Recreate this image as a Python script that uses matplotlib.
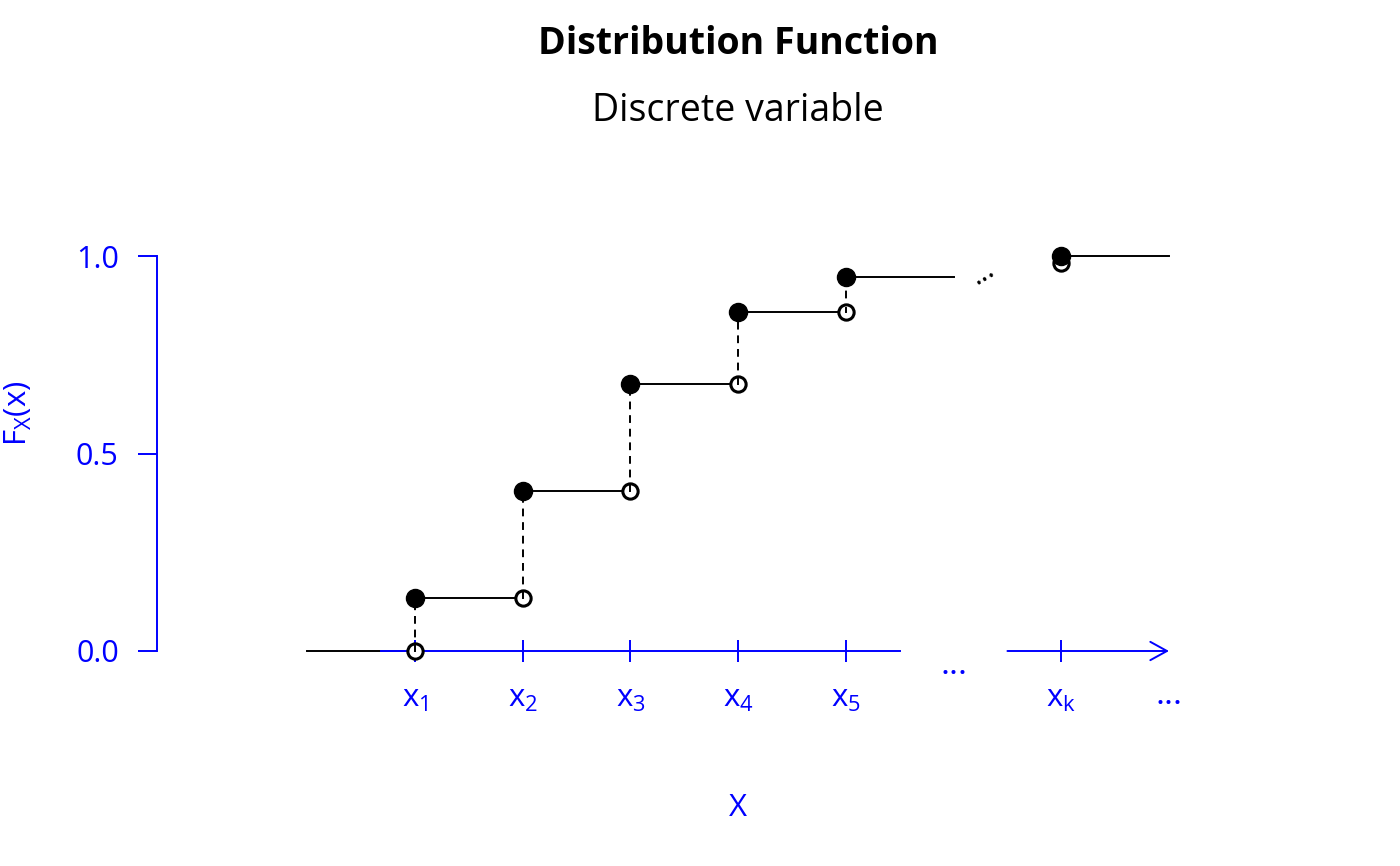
import matplotlib
matplotlib.use('Agg')
import matplotlib.pyplot as plt

plt.rcParams['font.family'] = ['Open Sans', 'DejaVu Sans']
plt.rcParams['mathtext.fontset'] = 'custom'
plt.rcParams['mathtext.rm'] = 'Open Sans'

BLUE = '#0000FF'

# step positions and cumulative probabilities
x_pts = [1, 2, 3, 4, 5]
F_pts = [0.135, 0.406, 0.677, 0.857, 0.947]
F_before = [0.0, 0.135, 0.406, 0.677, 0.857]
x_k = 7
F_k_before = 0.983
F_k = 1.0
x_start = 0
x_gap = 6
x_end = 8
tick_labels = [r'$\mathregular{x_1}$', r'$\mathregular{x_2}$', r'$\mathregular{x_3}$',
               r'$\mathregular{x_4}$', r'$\mathregular{x_5}$']
tick_label_k = r'$\mathregular{x_k}$'
y_ticks = [0.0, 0.5, 1.0]

fig = plt.figure(figsize=(14, 8.66), dpi=100)
ax = fig.add_axes([157 / 1400, 215 / 866, 1012 / 1400, 395 / 866])
ax.set_xlim(-1.3955, 8)
ax.set_ylim(0, 1)
for s in ['top', 'right', 'bottom']:
    ax.spines[s].set_visible(False)
ax.spines['left'].set_color(BLUE)
ax.spines['left'].set_linewidth(1.4)
ax.set_xticks([])
ax.set_yticks(y_ticks)
ax.set_yticklabels([f'{v:.1f}' for v in y_ticks])
ax.tick_params(axis='y', colors=BLUE, labelcolor=BLUE, length=13.5, width=1.4,
               pad=14, labelsize=22)

# x axis: broken line with arrow at the end
ax.plot([0.68, 5.5], [0, 0], color=BLUE, lw=1.4, clip_on=False, zorder=3)
ax.annotate('', xy=(x_end, 0), xytext=(6.5, 0),
            arrowprops=dict(arrowstyle='->,head_length=0.6,head_width=0.33',
                            color=BLUE, lw=1.4, mutation_scale=20,
                            shrinkA=0, shrinkB=0), annotation_clip=False)
tick_x = x_pts + [x_k]
ax.plot(tick_x, [0] * len(tick_x), ls='none', marker='|', markersize=16,
        markeredgewidth=1.4, color=BLUE, clip_on=False, zorder=3)
for xv, lab in zip(x_pts, tick_labels):
    ax.text(xv, -0.1418, lab, color=BLUE, fontsize=22.5, ha='center', va='baseline')
ax.text(x_k, -0.1418, tick_label_k, color=BLUE, fontsize=22.5, ha='center',
        va='baseline')
ax.text(x_gap, -0.058, '...', color=BLUE, fontsize=25, ha='center', va='baseline')
ax.text(x_end, -0.134, '...', color=BLUE, fontsize=25, ha='center', va='baseline')
ax.text(4.0, -0.4177, 'X', color=BLUE, fontsize=22.5, ha='center', va='baseline')

# horizontal steps
seg_x0 = [x_start] + x_pts + [x_k]
seg_x1 = x_pts + [x_gap, x_end]
seg_y = [0.0] + F_pts + [F_k]
for a, b, yv in zip(seg_x0, seg_x1, seg_y):
    ax.plot([a, b], [yv, yv], color='black', lw=1.4, clip_on=False, zorder=2)

# jumps
for xv, f0, f1 in zip(x_pts, F_before, F_pts):
    ax.plot([xv, xv], [f0, f1], color='black', lw=1.4, ls=(0, (4, 3)),
            clip_on=False, zorder=2)

# open circles (left limits) and filled circles (values)
ax.plot(x_pts + [x_k], F_before + [F_k_before], ls='none', marker='o',
        markersize=11, markerfacecolor='white', markeredgecolor='black',
        markeredgewidth=2.2, clip_on=False, zorder=4)
for xv, f0, f1 in zip(x_pts, F_before, F_pts):
    ax.plot([xv, xv], [f0, f0 + 0.012], color='black', lw=1.4,
            clip_on=False, zorder=5)
ax.plot(x_pts + [x_k], F_pts + [F_k], ls='none', marker='o', markersize=13,
        color='black', clip_on=False, zorder=6)

ax.text(6.303, 0.942, '...', fontsize=21, rotation=31, rotation_mode='anchor',
        ha='center', va='baseline', color='black')

fig.text(18 / 1400, 1 - 413 / 866, r'$\mathregular{F_X(x)}$', color=BLUE,
         fontsize=22.5, rotation=90, ha='center', va='center')

fig.text(738 / 1400, 1 - 54 / 866, 'Distribution Function', fontsize=27,
         fontweight='bold', ha='center', va='baseline')
fig.text(738 / 1400, 1 - 121 / 866, 'Discrete variable', fontsize=27,
         ha='center', va='baseline')

fig.savefig('out.png', dpi=100)
